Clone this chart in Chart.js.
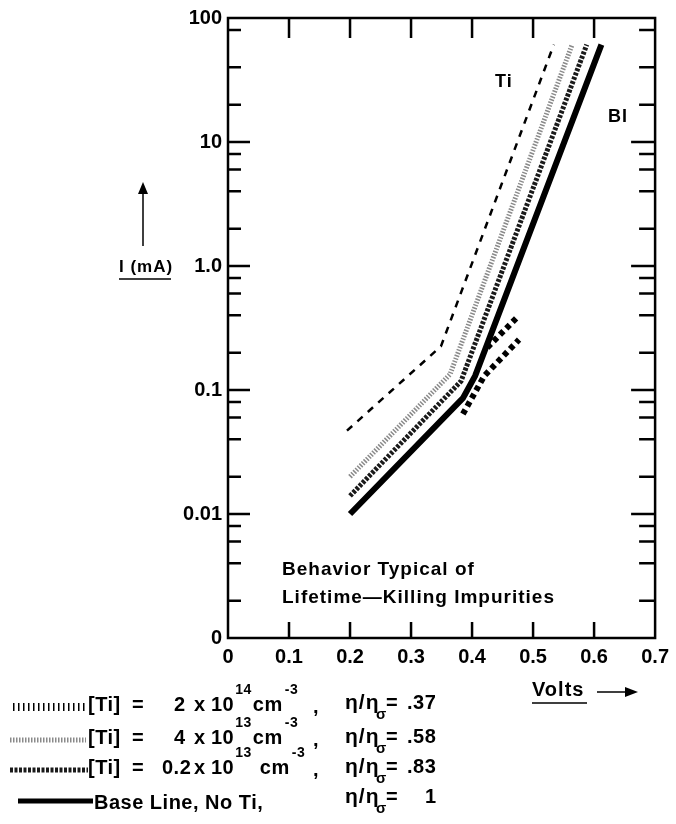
<!DOCTYPE html>
<html>
<head>
<meta charset="utf-8">
<script src="https://cdn.jsdelivr.net/npm/chart.js@4.4.1/dist/chart.umd.min.js"></script>
<style>
  html, body { margin: 0; padding: 0; background: #fff; }
</style>
</head>
<body>
<canvas id="ivChart" width="676" height="824"></canvas>
<script>
// I-V curves: volts (x) and current in mA (y, log scale)
var dashVolts     = [0.195, 0.349, 0.534];
var dashAmps      = [0.047, 0.225, 61];
var stippleVolts  = [0.2, 0.364, 0.564];
var stippleAmps   = [0.02, 0.134, 61];
var wavyVolts     = [0.2, 0.382, 0.588];
var wavyAmps      = [0.014, 0.118, 61];
var baseVolts     = [0.2, 0.385, 0.405, 0.612];
var baseAmps      = [0.01, 0.086, 0.13, 61];
var dotUpperVolts = [0.425, 0.474];
var dotUpperAmps  = [0.22, 0.386];
var dotLowerVolts = [0.385, 0.42, 0.477];
var dotLowerAmps  = [0.064, 0.13, 0.255];

var xTicks      = [0, 0.1, 0.2, 0.3, 0.4, 0.5, 0.6, 0.7];
var xTickLabels = ['0', '0.1', '0.2', '0.3', '0.4', '0.5', '0.6', '0.7'];
var yTicks      = [0.001, 0.01, 0.1, 1, 10, 100];
var yTickLabels = ['0', '0.01', '0.1', '1.0', '10', '100'];
var yMinorTicks = [80, 40, 20, 8, 6, 4, 2, 0.8, 0.6, 0.4, 0.2,
                   0.08, 0.06, 0.04, 0.02, 0.008, 0.006, 0.004, 0.002];

var FONT = '"Liberation Sans", Arial, sans-serif';

function pts(xs, ys) {
  return xs.map(function(x, i) { return { x: x, y: ys[i] }; });
}

function txt(ctx, s, x, y, size) {
  ctx.font = 'bold ' + (size || 19) + 'px ' + FONT;
  ctx.fillText(s, x, y);
  return x + ctx.measureText(s).width;
}

function arrowHead(ctx, tipX, tipY, dir) {
  ctx.beginPath();
  if (dir === 'up') {
    ctx.moveTo(tipX, tipY);
    ctx.lineTo(tipX - 5, tipY + 12);
    ctx.lineTo(tipX + 5, tipY + 12);
  } else {
    ctx.moveTo(tipX, tipY);
    ctx.lineTo(tipX - 13, tipY - 5);
    ctx.lineTo(tipX - 13, tipY + 5);
  }
  ctx.closePath();
  ctx.fill();
}

/* frame with inward ticks, annotations and legend
---------------------------- */
var frameAndText = {
  id: 'frameAndText',
  afterDraw: function(chart) {
    var ctx = chart.ctx, a = chart.chartArea;
    var xs = chart.scales.x, ys = chart.scales.y;
    ctx.save();
    ctx.strokeStyle = '#000';
    ctx.fillStyle = '#000';
    ctx.lineWidth = 2.5;
    ctx.strokeRect(a.left, a.top, a.right - a.left, a.bottom - a.top);

    ctx.beginPath();
    xTicks.forEach(function(v) {
      if (v <= xs.min || v >= xs.max) return;
      var px = xs.getPixelForValue(v);
      ctx.moveTo(px, a.bottom); ctx.lineTo(px, a.bottom - 16);
      ctx.moveTo(px, a.top); ctx.lineTo(px, a.top + 20);
    });
    yTicks.forEach(function(v) {
      if (v <= ys.min || v >= ys.max) return;
      var py = ys.getPixelForValue(v);
      ctx.moveTo(a.left, py); ctx.lineTo(a.left + 22, py);
      ctx.moveTo(a.right, py); ctx.lineTo(a.right - 24, py);
    });
    yMinorTicks.forEach(function(v) {
      var py = ys.getPixelForValue(v);
      ctx.moveTo(a.left, py); ctx.lineTo(a.left + 13, py);
      ctx.moveTo(a.right, py); ctx.lineTo(a.right - 16, py);
    });
    ctx.stroke();

    ctx.textBaseline = 'middle';
    ctx.textAlign = 'left';
    ctx.letterSpacing = '1px';

    // labels inside the plot
    txt(ctx, 'Ti', 495, 82, 18);
    txt(ctx, 'BI', 608, 117, 18);
    txt(ctx, 'Behavior Typical of', 282, 570);
    txt(ctx, 'Lifetime\u2014Killing Impurities', 282, 598);

    // y axis title with arrow
    txt(ctx, 'I (mA)', 119, 267, 17);
    ctx.lineWidth = 1.5;
    ctx.beginPath();
    ctx.moveTo(119, 279); ctx.lineTo(171, 279);
    ctx.moveTo(143, 246); ctx.lineTo(143, 192);
    ctx.stroke();
    arrowHead(ctx, 143, 182, 'up');

    // x axis title with arrow
    txt(ctx, 'Volts', 532, 690, 20);
    ctx.beginPath();
    ctx.moveTo(532, 703); ctx.lineTo(587, 703);
    ctx.moveTo(597, 692); ctx.lineTo(626, 692);
    ctx.stroke();
    arrowHead(ctx, 638, 692, 'right');

    // legend samples
    ctx.setLineDash([1.5, 3.5]);
    ctx.lineWidth = 8;
    ctx.beginPath(); ctx.moveTo(13, 707); ctx.lineTo(86, 707); ctx.stroke();
    ctx.setLineDash([1.5, 1.5]);
    ctx.lineWidth = 5;
    ctx.strokeStyle = '#8a8a8a';
    ctx.beginPath(); ctx.moveTo(10, 740); ctx.lineTo(86, 740); ctx.stroke();
    ctx.setLineDash([3, 1.5]);
    ctx.strokeStyle = '#1a1a1a';
    ctx.beginPath(); ctx.moveTo(10, 770); ctx.lineTo(88, 770); ctx.stroke();
    ctx.setLineDash([]);
    ctx.strokeStyle = '#000';
    ctx.beginPath(); ctx.moveTo(18, 801); ctx.lineTo(93, 801); ctx.stroke();

    // legend text
    ctx.letterSpacing = '0.5px';
    var rows = [
      { y: 705, lead: '2',   lx: 174, ex: '14', gap: 0 },
      { y: 738, lead: '4',   lx: 174, ex: '13', gap: 0 },
      { y: 768, lead: '0.2', lx: 162, ex: '13', gap: 7 }
    ];
    rows.forEach(function(r) {
      txt(ctx, '[Ti]', 88, r.y, 20);
      txt(ctx, '=', 132, r.y, 20);
      txt(ctx, r.lead, r.lx, r.y, 20);
      txt(ctx, 'x', 194, r.y, 20);
      var e = txt(ctx, '10', 211, r.y, 20);
      e = txt(ctx, r.ex, e + 1, r.y - 15, 14);
      var c = txt(ctx, 'cm', e + 1 + r.gap, r.y, 20);
      txt(ctx, '-3', c + 2, r.y - 15, 14);
      txt(ctx, ',', 313, r.y + 2, 20);
    });
    txt(ctx, 'Base Line, No Ti,', 94, 803, 20);

    var etas = [['.37', 703], ['.58', 737], ['.83', 767], ['1', 797]];
    etas.forEach(function(e) {
      ctx.letterSpacing = '1px';
      txt(ctx, '\u03b7/\u03b7', 345, e[1], 21);
      ctx.letterSpacing = '0.5px';
      txt(ctx, '\u03c3', 376, e[1] + 12, 15);
      txt(ctx, '=', 386, e[1], 20);
      txt(ctx, e[0], e[0] === '1' ? 425 : 407, e[1], 20);
    });
    ctx.restore();
  }
};

var ctx = document.getElementById('ivChart');
var ivChart = new Chart(ctx, {
  type: 'line',
  data: {
    datasets: [
      { data: pts(dashVolts, dashAmps), borderColor: '#000', borderWidth: 2.5, borderDash: [7, 7] },
      { data: pts(stippleVolts, stippleAmps), borderColor: '#8a8a8a', borderWidth: 5, borderDash: [1.5, 1.5] },
      { data: pts(wavyVolts, wavyAmps), borderColor: '#1a1a1a', borderWidth: 5, borderDash: [3, 1.5] },
      { data: pts(baseVolts, baseAmps), borderColor: '#000', borderWidth: 6 },
      { data: pts(dotUpperVolts, dotUpperAmps), borderColor: '#000', borderWidth: 6, borderDash: [5, 4] },
      { data: pts(dotLowerVolts, dotLowerAmps), borderColor: '#000', borderWidth: 6, borderDash: [5, 4] }
    ]
  },
  options: {
    responsive: false,
    animation: false,
    devicePixelRatio: 1,
    elements: { point: { radius: 0 }, line: { tension: 0, fill: false } },
    layout: { padding: { left: 0, top: 18, right: 17, bottom: 150 } },
    plugins: { legend: { display: false }, tooltip: { enabled: false } },
    scales: {
      x: {
        type: 'linear', min: 0, max: 0.7,
        grid: { display: false, drawTicks: false }, border: { display: false },
        afterBuildTicks: function(s) { s.ticks = xTicks.map(function(v) { return { value: v }; }); },
        afterFit: function(s) { s.height = 36; },
        ticks: {
          autoSkip: false, maxRotation: 0, padding: 7, color: '#000',
          font: { family: FONT, size: 20, weight: 'bold' },
          callback: function(v) { return xTickLabels[xTicks.indexOf(v)]; }
        }
      },
      y: {
        type: 'logarithmic', min: 0.001, max: 100,
        grid: { display: false, drawTicks: false }, border: { display: false },
        afterBuildTicks: function(s) { s.ticks = yTicks.map(function(v) { return { value: v }; }); },
        afterFit: function(s) { s.width = 228; },
        ticks: {
          autoSkip: false, padding: 6, color: '#000',
          font: { family: FONT, size: 20, weight: 'bold' },
          callback: function(v) { return yTickLabels[yTicks.indexOf(v)]; }
        }
      }
    }
  },
  plugins: [frameAndText]
});
</script>
</body>
</html>
